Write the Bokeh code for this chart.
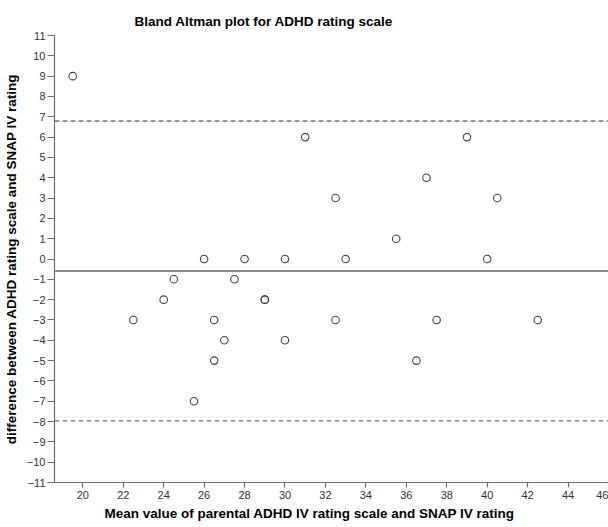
import numpy as np
from bokeh.plotting import figure
from bokeh.models import Range1d, FixedTicker, Span, Title
from bokeh.embed import file_html
from bokeh.resources import INLINE

# Data
mean_values = [19.5, 22.5, 24.0, 24.5, 25.5, 26.0, 26.5, 26.5, 27.0, 27.5, 28.0, 29.0, 29.0,
               30.0, 30.0, 31.0, 32.5, 32.5, 33.0, 35.5, 36.5, 37.0, 37.5, 39.0, 40.0, 40.5, 42.5]
differences = [9, -3, -2, -1, -7, 0, -3, -5, -4, -1, 0, -2, -2,
               0, -4, 6, 3, -3, 0, 1, -5, 4, -3, 6, 0, 3, -3]
x_ticks = list(range(20, 48, 2))
y_ticks = list(range(-11, 12))

title_text = "Bland Altman plot for ADHD rating scale"
x_label = "Mean value of parental ADHD IV rating scale and SNAP IV rating"
y_label = "difference between ADHD rating scale and SNAP IV rating"

d = np.array(differences, dtype=float)
bias = d.mean()
sd = d.std(ddof=1)
upper = bias + 1.96 * sd
lower = bias - 1.96 * sd

FONT = "Liberation Sans"

p = figure(width=608, height=527, output_backend="svg", toolbar_location=None,
           x_range=Range1d(18.6, 46.0), y_range=Range1d(-11, 11),
           min_border_left=48, min_border_right=0, min_border_top=35, min_border_bottom=45)
p.outline_line_color = None
p.grid.visible = False
p.background_fill_color = "white"
p.border_fill_color = "white"

p.title.text = title_text
p.title.align = "left"
p.title.offset = 80
p.title.vertical_align = "bottom"
p.title.standoff = 14
p.title.text_font = FONT
p.title.text_font_style = "bold"
p.title.text_font_size = "13.5px"
p.title.text_line_height = 1.0
p.title.text_color = "black"

for ax in (p.xaxis[0], p.yaxis[0]):
    ax.axis_line_color = "#6e6e6e"
    ax.axis_line_width = 1.2
    ax.major_tick_line_color = "#6e6e6e"
    ax.major_tick_line_width = 1.2
    ax.major_tick_in = 0
    ax.minor_tick_line_color = None
    ax.major_label_text_font = FONT
    ax.major_label_text_font_size = "11px"
    ax.major_label_text_color = "#333333"
    ax.axis_label_text_font = FONT
    ax.axis_label_text_font_style = "bold"
    ax.axis_label_text_font_size = "13.5px"
    ax.axis_label_text_color = "black"

p.xaxis.ticker = FixedTicker(ticks=x_ticks)
p.yaxis.ticker = FixedTicker(ticks=y_ticks)
p.xaxis.major_tick_out = 5
p.yaxis.major_tick_out = 7
p.xaxis.major_label_standoff = 3
p.yaxis.major_label_standoff = 2
p.yaxis.axis_label = y_label
p.yaxis.axis_label_standoff = 5

# x axis label placed like the reference (left aligned with an offset)
p.add_layout(Title(text=x_label, align="left", offset=50, vertical_align="top", standoff=8,
                   text_font=FONT, text_font_style="bold", text_font_size="13.5px",
                   text_line_height=1.0, text_color="black"), "below")

# reference lines
p.add_layout(Span(location=bias, dimension="width", line_color="#8a8a8a", line_width=2))
p.add_layout(Span(location=upper, dimension="width", line_color="#555555", line_width=1.2,
                  line_dash="5 3"))
p.add_layout(Span(location=lower, dimension="width", line_color="#777777", line_width=1.2,
                  line_dash="5 3"))

p.scatter(mean_values, differences, size=7.5, marker="circle", fill_color=None,
          line_color="#444444", line_width=1.1)

open("out.html", "w").write(file_html(p, INLINE))
